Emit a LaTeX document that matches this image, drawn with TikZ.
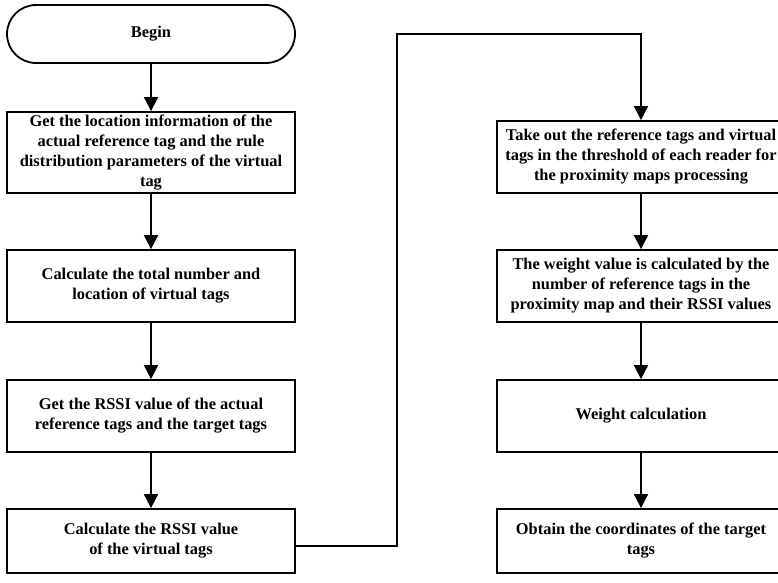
\documentclass[tikz,border=0pt]{standalone}
\usepackage{fontspec}
\setmainfont{Liberation Serif}
\usetikzlibrary{arrows.meta}
\begin{document}
\begin{tikzpicture}[x=1pt,y=1pt,
    stepbox/.style={draw,line width=1.8pt,align=center,minimum width=288pt,
      inner sep=0pt,font=\bfseries\fontsize{16.4}{20}\selectfont},
    startbox/.style={stepbox,rounded corners=29pt},
    flow/.style={line width=1.8pt,-{Triangle[length=14pt,width=14pt]}}]
  \useasboundingbox (0,0) rectangle (778,-582);
  % left column
  \node[startbox,minimum height=58pt] (begin) at (151,-34) {Begin};
  \node[stepbox,minimum height=81pt] (loc) at (151,-152.5)
  {Get the location information of the\\actual reference tag and the rule\\
    distribution parameters of the virtual\\tag};
  \node[stepbox,minimum height=72pt] (total) at (151,-286)
  {Calculate the total number and\\location of virtual tags};
  \node[stepbox,minimum height=72pt] (rssi) at (151,-416)
  {Get the RSSI value of the actual\\reference tags and the target tags};
  \node[stepbox,minimum height=64pt] (vrssi) at (151,-541)
  {Calculate the RSSI value\\of the virtual tags};
  % right column
  \node[stepbox,minimum height=72pt] (take) at (641,-157)
  {Take out the reference tags and virtual\\tags in the threshold of each reader for\\
    the proximity maps processing};
  \node[stepbox,minimum height=72pt] (value) at (641,-286)
  {The weight value is calculated by the\\number of reference tags in the\\
    proximity map and their RSSI values};
  \node[stepbox,minimum height=72pt] (weight) at (641,-416) {Weight calculation};
  \node[stepbox,minimum height=64pt] (coord) at (641,-541)
  {Obtain the coordinates of the target\\tags};
  \coordinate (up) at (397,-34);
  \draw[flow] (begin) -- (loc);
  \draw[flow] (loc) -- (total);
  \draw[flow] (total) -- (rssi);
  \draw[flow] (rssi) -- (vrssi);
  \draw[flow] ([yshift=-5pt]vrssi.east) -| (up) -| (take.north);
  \draw[flow] (take) -- (value);
  \draw[flow] (value) -- (weight);
  \draw[flow] (weight) -- (coord);
\end{tikzpicture}
\end{document}
